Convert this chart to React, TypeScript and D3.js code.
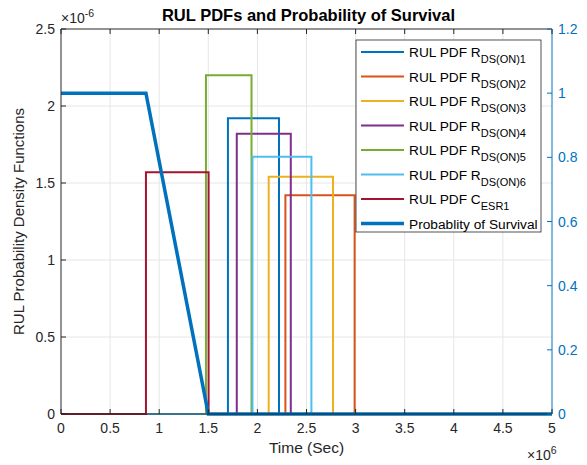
import React, { useEffect, useRef } from "react";
import * as d3 from "d3";

// PDF rectangles (seconds, density)
const pdfNames = ["R1", "R2", "R3", "R4", "R5", "R6", "C"];
const pdfLabels = [
  ["RUL PDF R", "DS(ON)1"],
  ["RUL PDF R", "DS(ON)2"],
  ["RUL PDF R", "DS(ON)3"],
  ["RUL PDF R", "DS(ON)4"],
  ["RUL PDF R", "DS(ON)5"],
  ["RUL PDF R", "DS(ON)6"],
  ["RUL PDF C", "ESR1"],
];
const pdfStart = [1.70e6, 2.285e6, 2.115e6, 1.79e6, 1.476e6, 1.95e6, 0.865e6];
const pdfEnd = [2.22e6, 2.99e6, 2.77e6, 2.34e6, 1.94e6, 2.55e6, 1.503e6];
const pdfHeight = [1.92e-6, 1.42e-6, 1.54e-6, 1.82e-6, 2.2e-6, 1.67e-6, 1.57e-6];
const pdfColors = ["#0072BD", "#D95319", "#EDB120", "#7E2F8E", "#77AC30", "#4DBEEE", "#A2142F"];

// probability of survival
const survT = [0, 0.865e6, 1.5e6, 5e6];
const survP = [1, 1, 0, 0];

const xTicks = [0, 0.5, 1, 1.5, 2, 2.5, 3, 3.5, 4, 4.5, 5];
const yTicks = [0, 0.5, 1, 1.5, 2, 2.5];
const y2Ticks = [0, 0.2, 0.4, 0.6, 0.8, 1, 1.2];

export default function App() {
  const ref = useRef<SVGSVGElement>(null);

  useEffect(() => {
    const svg = d3.select(ref.current);
    svg.selectAll("*").remove();
    const font = "Liberation Sans, Arial, sans-serif";
    const L = 61, R = 552, T = 29, B = 414;

    const x = d3.scaleLinear().domain([0, 5e6]).range([L, R]);
    const y = d3.scaleLinear().domain([0, 2.5e-6]).range([B, T]);
    const y2 = d3.scaleLinear().domain([0, 1.2]).range([B, T]);

    svg.append("rect").attr("x", L).attr("y", T).attr("width", R - L).attr("height", B - T).attr("fill", "#fff");

    // grid
    const grid = svg.append("g").attr("stroke", "#e6e6e6").attr("stroke-width", 1);
    xTicks.slice(1, -1).forEach(t => {
      grid.append("line").attr("x1", x(t * 1e6)).attr("x2", x(t * 1e6)).attr("y1", T).attr("y2", B);
    });
    yTicks.slice(1, -1).forEach(t => {
      grid.append("line").attr("x1", L).attr("x2", R).attr("y1", y(t * 1e-6)).attr("y2", y(t * 1e-6));
    });

    // pdfs
    const line = d3.line<[number, number]>().x(d => x(d[0])).y(d => y(d[1]));
    pdfNames.forEach((n, i) => {
      const pts: [number, number][] = [
        [0, 0], [pdfStart[i], 0], [pdfStart[i], pdfHeight[i]],
        [pdfEnd[i], pdfHeight[i]], [pdfEnd[i], 0], [5e6, 0],
      ];
      svg.append("path").attr("d", line(pts)).attr("fill", "none")
        .attr("stroke", pdfColors[i]).attr("stroke-width", 2);
    });

    // survival
    const line2 = d3.line<number>().x((d, i) => x(survT[i])).y(d => y2(d));
    svg.append("path").attr("d", line2(survP)).attr("fill", "none")
      .attr("stroke", "#0072BD").attr("stroke-width", 3.5);

    // axes box
    const ax = svg.append("g").attr("font-family", font).attr("font-size", 14).attr("fill", "#262626");
    ax.append("line").attr("x1", L).attr("x2", R).attr("y1", B).attr("y2", B).attr("stroke", "#262626");
    ax.append("line").attr("x1", L).attr("x2", R).attr("y1", T).attr("y2", T).attr("stroke", "#262626");
    ax.append("line").attr("x1", L).attr("x2", L).attr("y1", T).attr("y2", B).attr("stroke", "#262626");
    ax.append("line").attr("x1", R).attr("x2", R).attr("y1", T).attr("y2", B).attr("stroke", "#0072BD");

    xTicks.forEach(t => {
      const px = x(t * 1e6);
      ax.append("line").attr("x1", px).attr("x2", px).attr("y1", B).attr("y2", B - 5).attr("stroke", "#262626");
      ax.append("line").attr("x1", px).attr("x2", px).attr("y1", T).attr("y2", T + 5).attr("stroke", "#262626");
      ax.append("text").attr("x", px).attr("y", B + 19).attr("text-anchor", "middle").text(String(t));
    });
    yTicks.forEach(t => {
      const py = y(t * 1e-6);
      ax.append("line").attr("x1", L).attr("x2", L + 5).attr("y1", py).attr("y2", py).attr("stroke", "#262626");
      ax.append("text").attr("x", L - 6).attr("y", py + 5).attr("text-anchor", "end").text(String(t));
    });
    y2Ticks.forEach(t => {
      const py = y2(t);
      ax.append("line").attr("x1", R).attr("x2", R - 5).attr("y1", py).attr("y2", py).attr("stroke", "#0072BD");
      ax.append("text").attr("x", R + 6).attr("y", py + 5).attr("fill", "#0072BD").text(String(t));
    });

    // exponents
    const e1 = ax.append("text").attr("x", L).attr("y", 23);
    e1.append("tspan").text("\u00d710");
    e1.append("tspan").attr("dy", -6).attr("font-size", 10.5).text("-6");
    const e2 = ax.append("text").attr("x", 527).attr("y", 460);
    e2.append("tspan").text("\u00d710");
    e2.append("tspan").attr("dy", -6).attr("font-size", 10.5).text("6");

    // labels
    ax.append("text").attr("x", (L + R) / 2).attr("y", 453).attr("text-anchor", "middle").attr("font-size", 15.5).text("Time (Sec)");
    ax.append("text").attr("transform", `translate(24,${(T + B) / 2}) rotate(-90)`).attr("text-anchor", "middle")
      .attr("font-size", 15).text("RUL Probability Density Functions");
    ax.append("text").attr("x", (L + R) / 2 + 2).attr("y", 21).attr("text-anchor", "middle").attr("font-size", 16.5)
      .attr("font-weight", "bold").attr("fill", "#000").text("RUL PDFs and Probability of Survival");

    // legend
    const lg = svg.append("g").attr("font-family", font).attr("font-size", 13.7).attr("fill", "#000");
    lg.append("rect").attr("x", 356).attr("y", 40).attr("width", 185).attr("height", 192)
      .attr("fill", "#fff").attr("stroke", "#262626").attr("stroke-width", 0.8);
    const rows = pdfLabels.length + 1;
    for (let i = 0; i < rows; i++) {
      const ry = 52 + i * 24.5;
      const isSurv = i === pdfLabels.length;
      lg.append("line").attr("x1", 361).attr("x2", 404).attr("y1", ry).attr("y2", ry)
        .attr("stroke", isSurv ? "#0072BD" : pdfColors[i]).attr("stroke-width", isSurv ? 3.5 : 2);
      const tx = lg.append("text").attr("x", 409).attr("y", ry + 5);
      if (isSurv) {
        tx.text("Probablity of Survival");
      } else {
        tx.append("tspan").text(pdfLabels[i][0]);
        tx.append("tspan").attr("dy", 6).attr("font-size", 11).text(pdfLabels[i][1]);
      }
    }
  }, []);

  return (
    <svg ref={ref} width={587} height={465} style={{ position: "absolute", left: 0, top: 0 }} />
  );
}
